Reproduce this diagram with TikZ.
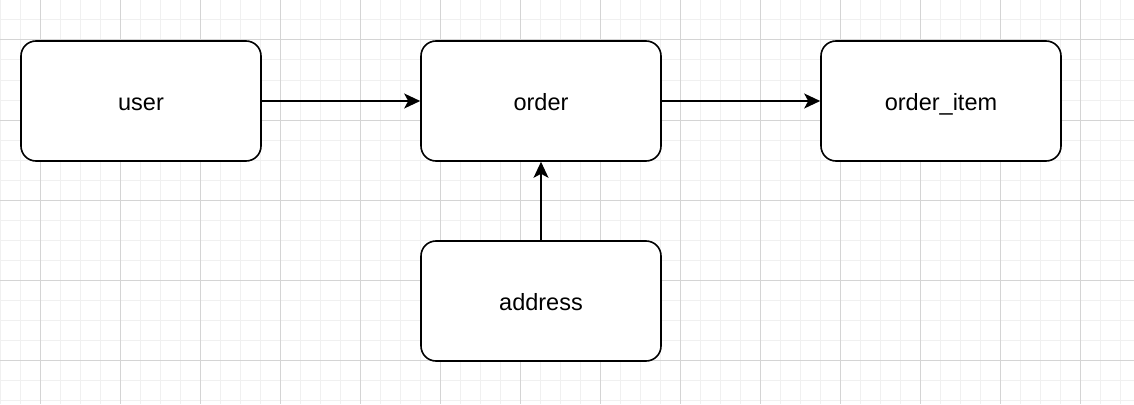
\documentclass[tikz,border=0pt]{standalone}
\usepackage{fontspec}
\setmainfont{Liberation Sans}
\usetikzlibrary{arrows.meta}
\begin{document}
\begin{tikzpicture}[x=1pt,y=-1pt,
  minorgrid/.style={draw=black!6, line width=1pt},
  majorgrid/.style={draw=black!17, line width=1pt},
  box/.style={draw, line width=1.6pt, rounded corners=15pt, minimum width=240pt, minimum height=120pt, fill=white, font=\fontsize{23.5}{28}\selectfont, inner sep=0pt, text height=18pt, text depth=0pt},
  link/.style={line width=1.6pt, -{Stealth[length=16pt,width=15pt,inset=4pt]}}]
\useasboundingbox (0,0) rectangle (1134,404);
\fill[white] (0,0) rectangle (1134,404);
\foreach \x in {0,20,...,1120} \draw[minorgrid] (\x,0) -- (\x,404);
\foreach \y in {0,20,...,400} \draw[minorgrid] (0,\y) -- (1134,\y);
\foreach \x in {40,120,...,1080} \draw[majorgrid] (\x,0) -- (\x,404);
\foreach \y in {40,120,...,360} \draw[majorgrid] (0,\y) -- (1134,\y);
\node[box] (user) at (141,101) {user};
\node[box] (order) at (541,101) {order};
\node[box] (item) at (941,101) {order\_item};
\node[box] (addr) at (541,301) {address};
\draw[link] (user) -- (order);
\draw[link] (order) -- (item);
\draw[link] (addr) -- (order);
\end{tikzpicture}
\end{document}
